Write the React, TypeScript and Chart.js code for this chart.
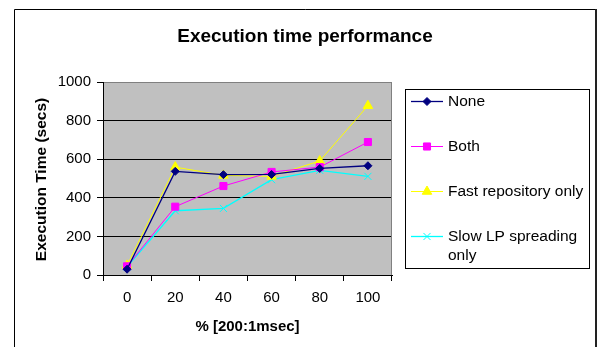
import React, { useEffect, useRef } from 'react';
import { Chart, registerables } from 'chart.js';
import { drawPoint } from 'chart.js/helpers';

Chart.register(...registerables);

const categories = ['0', '20', '40', '60', '80', '100'];
const noneValues = [30, 537, 520, 521, 552, 566];
const bothValues = [45, 354, 461, 534, 559, 689];
const fastValues = [50, 559, 516, 511, 591, 877];
const slowValues = [42, 333, 345, 494, 542, 511];
const seriesNames = ['None', 'Both', 'Fast repository only', 'Slow LP spreading only'];
const yTicks = [0, 200, 400, 600, 800, 1000];
const chartTitle = 'Execution time performance';
const xTitle = '% [200:1msec]';
const yTitle = 'Execution Time (secs)';

const FONT = "Arial, 'Liberation Sans', sans-serif";

function wrapText(ctx: CanvasRenderingContext2D, text: string, maxW: number): string[] {
  const words = text.split(' ');
  const lines: string[] = [];
  let cur = '';
  for (const w of words) {
    const t = cur ? cur + ' ' + w : w;
    if (ctx.measureText(t).width > maxW && cur) {
      lines.push(cur);
      cur = w;
    } else cur = t;
  }
  if (cur) lines.push(cur);
  return lines;
}

const decor = {
  id: 'decor',
  beforeDraw(chart: any) {
    const { ctx, chartArea: a, width, height } = chart;
    ctx.save();
    ctx.fillStyle = '#ffffff';
    ctx.fillRect(0, 0, width, height);
    ctx.fillStyle = '#C0C0C0';
    ctx.fillRect(a.left, a.top, a.right - a.left, a.bottom - a.top);
    ctx.restore();
  },
  beforeDatasetsDraw(chart: any) {
    const { ctx, chartArea: a } = chart;
    ctx.save();
    ctx.strokeStyle = '#808080';
    ctx.lineWidth = 1;
    ctx.beginPath();
    ctx.moveTo(a.right - 0.5, a.top);
    ctx.lineTo(a.right - 0.5, a.bottom);
    ctx.stroke();
    ctx.restore();
  },
  afterDraw(chart: any) {
    const { ctx, chartArea: a } = chart;
    ctx.save();
    // outer frame
    ctx.strokeStyle = '#000';
    ctx.lineWidth = 1;
    ctx.beginPath();
    ctx.moveTo(14.5, 400);
    ctx.lineTo(14.5, 9.5);
    ctx.lineTo(596, 9.5);
    ctx.stroke();
    ctx.lineWidth = 2;
    ctx.strokeStyle = '#222';
    ctx.beginPath();
    ctx.moveTo(596, 9);
    ctx.lineTo(596, 400);
    ctx.stroke();

    // title
    ctx.fillStyle = '#000';
    ctx.textAlign = 'center';
    ctx.textBaseline = 'alphabetic';
    ctx.font = `bold 19px ${FONT}`;
    ctx.fillText(chartTitle, 305, 41.5);

    // x title
    ctx.font = `bold 15px ${FONT}`;
    ctx.fillText(xTitle, (a.left + a.right) / 2, 331);

    // y title
    ctx.save();
    ctx.translate(46, (a.top + a.bottom) / 2 + 1);
    ctx.rotate(-Math.PI / 2);
    ctx.font = `bold 15.5px ${FONT}`;
    ctx.fillText(yTitle, 0, 0);
    ctx.restore();

    // legend
    ctx.strokeStyle = '#000';
    ctx.lineWidth = 1;
    ctx.strokeRect(405.5, 89.5, 184, 179);
    ctx.font = `15.5px ${FONT}`;
    ctx.textAlign = 'left';
    ctx.textBaseline = 'middle';
    chart.data.datasets.forEach((ds: any, i: number) => {
      const y = 101.5 + i * 45;
      ctx.strokeStyle = ds.borderColor;
      ctx.lineWidth = ds.borderWidth;
      ctx.beginPath();
      ctx.moveTo(411, y);
      ctx.lineTo(443, y);
      ctx.stroke();
      ctx.fillStyle = ds.pointBackgroundColor;
      ctx.strokeStyle = ds.borderColor;
      ctx.lineWidth = 1;
      drawPoint(ctx, { pointStyle: ds.pointStyle, radius: ds.pointRadius, rotation: 0, borderWidth: 1 } as any, 427, y);
      ctx.fillStyle = '#000';
      const lines = wrapText(ctx, ds.label, 138);
      lines.forEach((ln, j) => ctx.fillText(ln, 448, y + j * 19));
    });
    ctx.restore();
  },
};

export default function App() {
  const ref = useRef<HTMLCanvasElement | null>(null);
  useEffect(() => {
    if (!ref.current) return;
    const mk = (label: string, data: number[], color: string, style: string, r: number, bw: number) => ({
      label,
      data,
      borderColor: color,
      backgroundColor: color,
      pointBackgroundColor: color,
      pointBorderColor: color,
      pointStyle: style,
      pointRadius: r,
      pointBorderWidth: 1,
      borderWidth: bw,
      tension: 0,
    });
    const chart = new Chart(ref.current, {
      type: 'line',
      data: {
        labels: categories,
        datasets: [
          mk(seriesNames[0], noneValues, '#000080', 'rectRot', 4, 1.3),
          mk(seriesNames[1], bothValues, '#FF00FF', 'rect', 5, 1),
          mk(seriesNames[2], fastValues, '#FFFF00', 'triangle', 5.5, 1),
          mk(seriesNames[3], slowValues, '#00FFFF', 'crossRot', 5, 1.3),
        ] as any,
      },
      options: {
        animation: false,
        responsive: false,
        devicePixelRatio: 1,
        layout: { padding: { left: 0, top: 82, right: 207, bottom: 0 } },
        plugins: {
          legend: { display: false },
          title: { display: false },
          tooltip: { enabled: false },
        },
        scales: {
          x: {
            type: 'category',
            offset: true,
            grid: {
              offset: true,
              drawOnChartArea: false,
              drawTicks: true,
              tickLength: 6,
              color: '#000',
              tickColor: '#000',
            },
            border: { display: true, color: '#000', width: 1 },
            ticks: { color: '#000', font: { family: FONT, size: 15 }, padding: 8, maxRotation: 0 },
            afterFit: (s: any) => {
              s.height = 72;
            },
          },
          y: {
            min: yTicks[0],
            max: yTicks[yTicks.length - 1],
            ticks: {
              stepSize: yTicks[1] - yTicks[0],
              color: '#000',
              font: { family: FONT, size: 15 },
              padding: 6,
              callback: (v: any) => String(v),
            },
            grid: {
              color: (c: any) => (c.tick && c.tick.value === yTicks[yTicks.length - 1] ? '#808080' : '#000'),
              tickColor: '#000',
              tickLength: 6,
              lineWidth: 1,
            },
            border: { display: true, color: '#000', width: 1 },
            afterFit: (s: any) => {
              s.width = 103;
            },
          },
        },
      } as any,
      plugins: [decor],
    });
    return () => chart.destroy();
  }, []);
  return (
    <div style={{ position: 'absolute', left: 0, top: 0, width: 599, height: 347, background: '#fff' }}>
      <canvas ref={ref} width={599} height={347} style={{ display: 'block' }} />
    </div>
  );
}
